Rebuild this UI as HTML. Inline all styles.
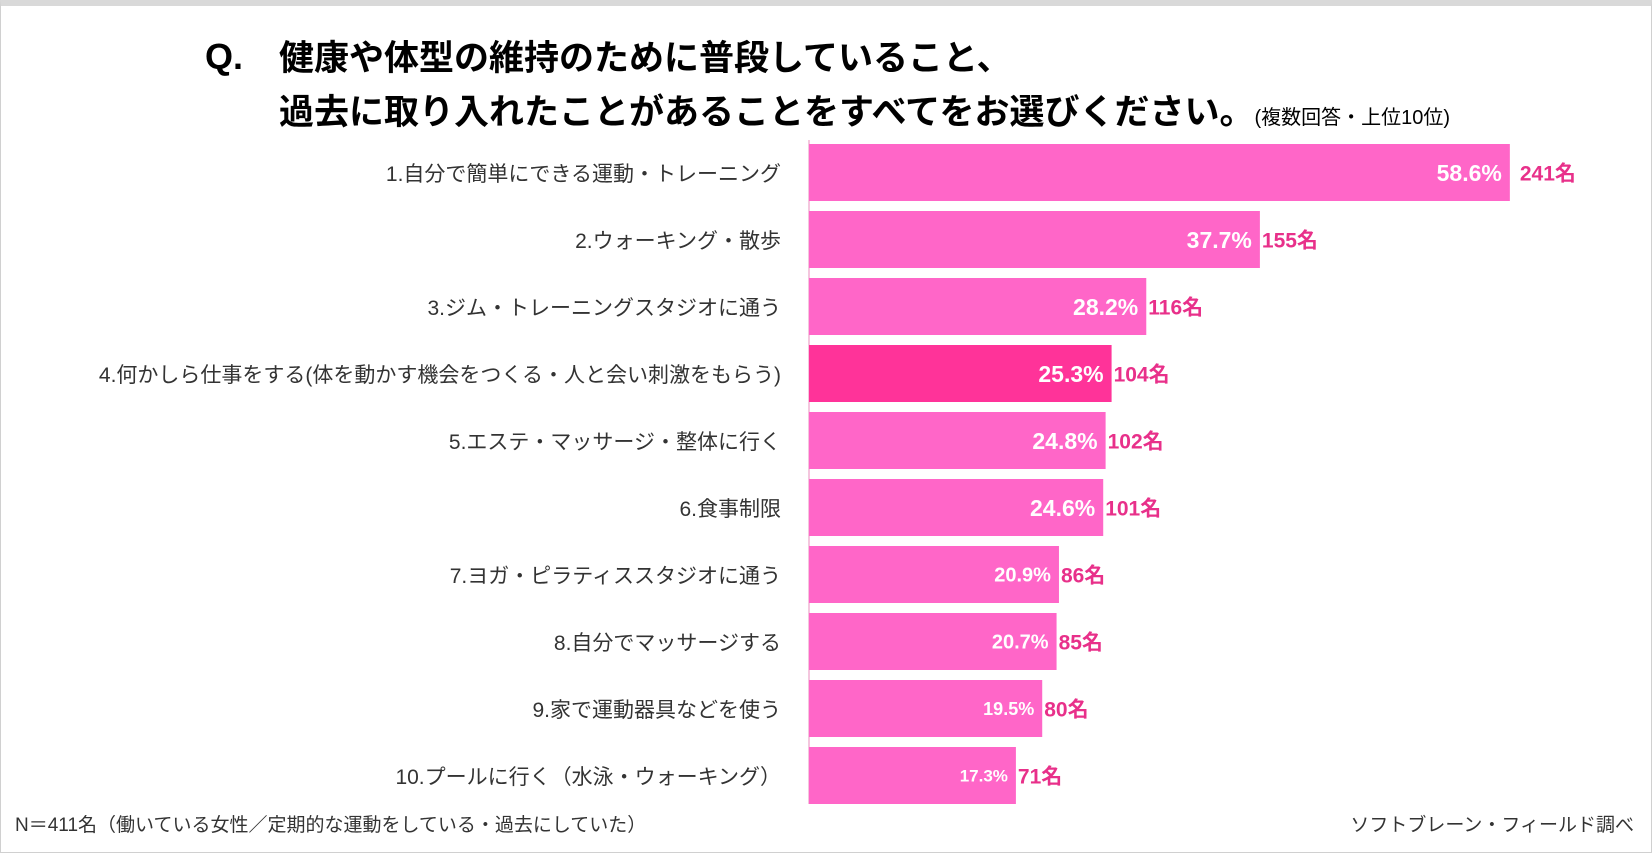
<!DOCTYPE html>
<html><head><meta charset="utf-8"><style>
body{margin:0;background:#fff;}
#wrap{position:relative;width:1652px;height:853px;overflow:hidden;background:#fff;font-family:"Liberation Sans","Noto Sans CJK JP",sans-serif;}
.frame{position:absolute;left:0;top:0;border:1px solid #d0d0d0;border-top:6px solid #d9d9d9;box-sizing:border-box;width:1652px;height:853px;}
.t{position:absolute;font-weight:bold;font-size:35px;color:#000;white-space:nowrap;}
.lbl{position:absolute;right:871px;font-size:21px;color:#333;white-space:nowrap;transform:translateY(-50%);}
.foot{position:absolute;font-size:19px;color:#333;white-space:nowrap;}
</style></head><body>
<div id="wrap">
<div class="frame"></div>
<div class="t" style="left:205px;top:36px;font-size:36px;">Q.</div>
<div class="t" style="left:279px;top:30px;">健康や体型の維持のために普段していること、</div>
<div class="t" style="left:279px;top:84px;">過去に取り入れたことがあることをすべてをお選びください。<span style="font-size:20px;font-weight:normal;">(複数回答・上位10位)</span></div>
<svg id="chart" width="1652" height="853" style="position:absolute;left:0;top:0;"></svg>
<div id="labels"></div>
<div class="foot" style="left:15px;top:810px;">N＝411名（働いている女性／定期的な運動をしている・過去にしていた）</div>
<div class="foot" style="right:18px;top:810px;">ソフトブレーン・フィールド調べ</div>
</div>
<script>
const categories=["1.自分で簡単にできる運動・トレーニング","2.ウォーキング・散歩","3.ジム・トレーニングスタジオに通う","4.何かしら仕事をする(体を動かす機会をつくる・人と会い刺激をもらう)","5.エステ・マッサージ・整体に行く","6.食事制限","7.ヨガ・ピラティススタジオに通う","8.自分でマッサージする","9.家で運動器具などを使う","10.プールに行く（水泳・ウォーキング）"];
const percents=[58.6,37.7,28.2,25.3,24.8,24.6,20.9,20.7,19.5,17.3];
const counts=[241,155,116,104,102,101,86,85,80,71];
const highlight=[false,false,false,true,false,false,false,false,false,false];
const x0=809,pxPer=11.96,top0=144,pitch=67.0,bh=57;
const xs=v=>x0+v*pxPer;
const yc=i=>top0+i*pitch;
const svg=document.getElementById('chart');
const NS="http://www.w3.org/2000/svg";
const axis=document.createElementNS(NS,'line');
axis.setAttribute('x1',x0);axis.setAttribute('x2',x0);axis.setAttribute('y1',140);axis.setAttribute('y2',804);
axis.setAttribute('stroke','#f4c6de');axis.setAttribute('stroke-width','2');


svg.appendChild(axis);
const labels=document.getElementById('labels');
percents.forEach((p,i)=>{
  const r=document.createElementNS(NS,'rect');
  r.setAttribute('x',x0);r.setAttribute('y',yc(i));
  r.setAttribute('width',xs(p)-x0);r.setAttribute('height',bh);
  r.setAttribute('fill',highlight[i]?'#ff3399':'#ff66c8');
  
  
  svg.appendChild(r);
  const fs=i<6?23:(i<8?20:(i<9?18:17));
  const t=document.createElementNS(NS,'text');
  t.setAttribute('x',xs(p)-8);t.setAttribute('y',yc(i)+bh/2+fs*0.36);
  t.setAttribute('text-anchor','end');t.setAttribute('fill','#fff');
  t.setAttribute('font-weight','bold');t.setAttribute('font-size',fs);
  t.setAttribute('font-family','"Liberation Sans","Noto Sans CJK JP",sans-serif');
  t.textContent=p.toFixed(1)+'%';
  
  
  svg.appendChild(t);
  const c=document.createElementNS(NS,'text');
  c.setAttribute('x',xs(p)+(i==0?10:2));c.setAttribute('y',yc(i)+bh/2+8);
  c.setAttribute('fill','#e8308a');c.setAttribute('font-weight','bold');c.setAttribute('font-size',21);
  c.setAttribute('font-family','"Liberation Sans","Noto Sans CJK JP",sans-serif');
  c.textContent=counts[i]+'名';
  
  
  svg.appendChild(c);
  const d=document.createElement('div');
  d.className='lbl';d.style.top=(yc(i)+bh/2)+'px';
  d.textContent=categories[i];
  
  
  labels.appendChild(d);
});
</script>
</body></html>
